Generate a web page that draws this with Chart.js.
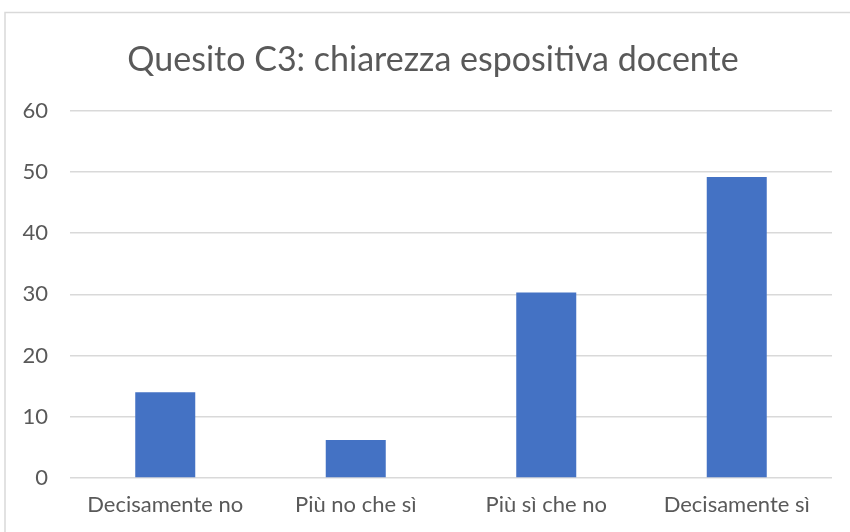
<!DOCTYPE html>
<html>
<head>
<meta charset="utf-8">
<script src="https://cdn.jsdelivr.net/npm/chart.js@4/dist/chart.umd.min.js"></script>
<style>
  html, body { margin: 0; padding: 0; background: #fff; }
  #wrap { width: 850px; height: 532px; position: relative; }
</style>
</head>
<body>
<div id="wrap"><canvas id="myChart" width="850" height="532"></canvas></div>
<script>
'use strict';

let categories = ['Decisamente no', 'Più no che sì', 'Più sì che no', 'Decisamente sì'];
let values = [14.0, 6.2, 30.3, 49.2];
let yTicks = [0, 10, 20, 30, 40, 50, 60];
let chartTitle = 'Quesito C3: chiarezza espositiva docente';

let textColor = '#595959';
let fontFamily = 'Lato, "Open Sans", sans-serif';

// light frame around the chart, open at the right and bottom like the picture
let framePlugin = {
  id: 'frame',
  afterLayout(chart) {
    // title sits a bit right of the canvas centre in the original
    if (chart.titleBlock) {
      chart.titleBlock.left += 12;
      chart.titleBlock.right += 12;
    }
  },
  beforeDraw(chart) {
    let ctx = chart.ctx;
    ctx.save();
    ctx.fillStyle = '#ffffff';
    ctx.fillRect(0, 0, chart.width, chart.height);
    ctx.strokeStyle = '#d9d9d9';
    ctx.lineWidth = 1.5;
    ctx.beginPath();
    ctx.moveTo(5, chart.height);
    ctx.lineTo(5, 12.5);
    ctx.lineTo(chart.width, 12.5);
    ctx.stroke();
    ctx.restore();
  }
};

let ctx = document.getElementById('myChart').getContext('2d');
let myChart = new Chart(ctx, {
  type: 'bar',
  data: {
    labels: categories,
    datasets: [{
      label: 'C3',
      data: values,
      backgroundColor: '#4472c4',
      borderWidth: 0,
      barPercentage: 0.63,
      categoryPercentage: 0.5
    }]
  },
  options: {
    responsive: false,
    animation: false,
    layout: {
      padding: { left: 10, right: 18, top: 40, bottom: 13 }
    },
    plugins: {
      legend: { display: false },
      tooltip: { enabled: false },
      title: {
        display: true,
        text: chartTitle,
        color: textColor,
        font: { family: fontFamily, size: 34, weight: 'normal', lineHeight: 1.2 },
        padding: { top: 0, bottom: 30 }
      }
    },
    scales: {
      x: {
        afterFit(scale) {
          scale.height = 41;
        },
        grid: { display: false, drawTicks: false },
        border: { display: false },
        ticks: {
          color: textColor,
          font: { family: fontFamily, size: 22, lineHeight: 1.2 },
          padding: 14,
          maxRotation: 0
        }
      },
      y: {
        min: 0,
        max: 60,
        afterBuildTicks(scale) {
          scale.ticks = yTicks.map(v => ({ value: v }));
        },
        afterFit(scale) {
          scale.width = 60;
        },
        grid: { color: '#d9d9d9', lineWidth: 1.5, drawTicks: false },
        border: { display: false },
        ticks: {
          color: textColor,
          font: { family: fontFamily, size: 22 },
          padding: 22
        }
      }
    }
  },
  plugins: [framePlugin]
});
</script>
</body>
</html>
